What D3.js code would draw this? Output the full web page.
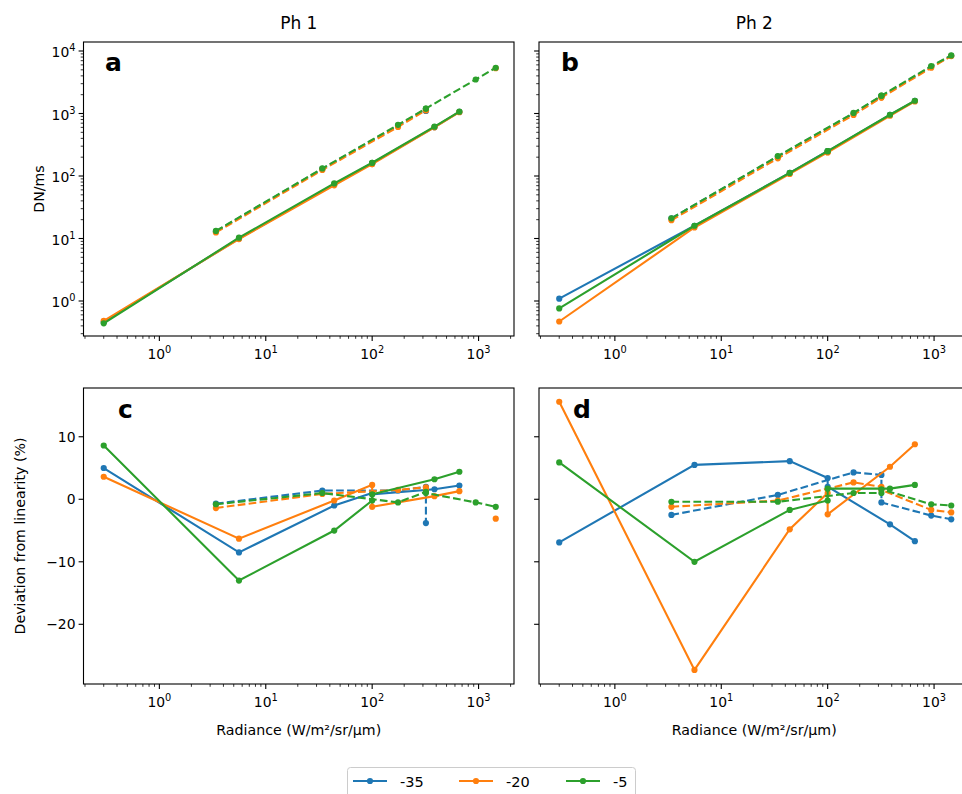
<!DOCTYPE html>
<html><head><meta charset="utf-8">
<script src="https://cdn.jsdelivr.net/npm/d3@7"></script>
<style>body{margin:0;background:#fff} svg text{font-family:"DejaVu Sans",sans-serif;fill:#000}</style>
</head><body><svg id="chart" width="962" height="794"></svg>
<script>
// ---------------- DATA ----------------
const temps = ["-35", "-20", "-5"];
const seriesColors = ["#1f77b4", "#ff7f0e", "#2ca02c"];
const solidX = [0.3, 5.6, 44, 100, 100, 385, 660];
const dashedX = [3.4, 34, 175, 320, 320, 940, 1450];

// DN/ms, Ph 1 (rows: -35, -20, -5)
const ph1SignalSolid = [
  [0.46, 10.0, 74, 160, 160, 605, 1060],
  [0.48, 9.8, 71, 155, 155, 600, 1050],
  [0.44, 10.3, 76, 163, 163, 615, 1070]
];
const ph1SignalDashed = [
  [13.0, 130, 640, 1180, 1100, null, null],
  [12.5, 125, 610, 1130, 1130, null, 5300],
  [13.2, 132, 660, 1200, 1200, 3500, 5400]
];
// DN/ms, Ph 2
const ph2SignalSolid = [
  [1.09, 16, 112, 250, 248, 950, 1590],
  [0.47, 15, 108, 240, 238, 920, 1560],
  [0.76, 16, 112, 250, 250, 955, 1600]
];
const ph2SignalDashed = [
  [21, 205, 1000, 1900, 1880, 5600, 8400],
  [19.6, 192, 950, 1800, 1800, 5400, 8300],
  [21, 208, 1020, 1930, 1930, 5750, 8500]
];
// Deviation from linearity (%), Ph 1
const ph1DevSolid = [
  [5.0, -8.5, -1.0, 1.0, 0.8, 1.6, 2.2],
  [3.6, -6.3, -0.2, 2.3, -1.2, 0.5, 1.3],
  [8.6, -13.0, -5.0, -0.2, 0.8, 3.2, 4.4]
];
const ph1DevDashed = [
  [-0.7, 1.4, 1.4, 2.0, -3.8, null, null],
  [-1.4, 0.85, 1.5, 1.9, 1.5, null, -3.1],
  [-0.8, 1.0, -0.5, 1.2, 1.0, -0.5, -1.2]
];
// Deviation from linearity (%), Ph 2
const ph2DevSolid = [
  [-6.9, 5.5, 6.1, 3.4, 2.0, -4.0, -6.7],
  [15.6, -27.3, -4.8, 1.0, -2.4, 5.2, 8.8],
  [5.9, -10.0, -1.7, -0.2, 1.7, 1.7, 2.3]
];
const ph2DevDashed = [
  [-2.5, 0.7, 4.3, 3.9, -0.5, -2.6, -3.2],
  [-1.2, -0.2, 2.7, 2.0, 1.5, -1.7, -2.1],
  [-0.4, -0.4, 1.0, 1.0, 1.6, -0.8, -1.0]
];

const panelTitles = ["Ph 1", "Ph 2"];
const panelLetters = ["a", "b", "c", "d"];
const xTickExps = [0, 1, 2, 3];
const topYTickExps = [0, 1, 2, 3, 4];
const devTicks = [10, 0, -10, -20];

// ---------------- LAYOUT ----------------
const svg = d3.select("#chart");
const colX = [83.5, 539];
const panelW = 430.5;
const rowY = [42, 388];
const rowH = [294, 296];
const xDomain = [Math.pow(10, -0.713), Math.pow(10, 3.333)];
const topYDomain = [Math.pow(10, -0.56), Math.pow(10, 4.144)];
const devYDomain = [-29.55, 17.8];

const panels = [
  {col: 0, row: 0, letter: "a", lx: 105, ly: 71, solid: ph1SignalSolid, dashed: ph1SignalDashed},
  {col: 1, row: 0, letter: "b", lx: 561, ly: 71, solid: ph2SignalSolid, dashed: ph2SignalDashed},
  {col: 0, row: 1, letter: "c", lx: 118, ly: 418, solid: ph1DevSolid, dashed: ph1DevDashed},
  {col: 1, row: 1, letter: "d", lx: 573, ly: 418, solid: ph2DevSolid, dashed: ph2DevDashed}
];

function supText(sel, base, exp) {
  sel.append("tspan").text(base);
  sel.append("tspan").attr("dy", -6).attr("font-size", 9.8).text(exp);
}

panels.forEach((p, pi) => {
  const x0 = colX[p.col], y0 = rowY[p.row], h = rowH[p.row];
  const x = d3.scaleLog().domain(xDomain).range([x0, x0 + panelW]);
  const y = p.row === 0
    ? d3.scaleLog().domain(topYDomain).range([y0 + h, y0])
    : d3.scaleLinear().domain(devYDomain).range([y0 + h, y0]);
  const g = svg.append("g");
  const clipId = "clip" + pi;
  svg.append("clipPath").attr("id", clipId).append("rect")
    .attr("x", x0).attr("y", y0).attr("width", panelW).attr("height", h);
  const plot = g.append("g").attr("clip-path", `url(#${clipId})`);

  // data
  temps.forEach((t, i) => {
    [["solid", solidX, p.solid[i]], ["dashed", dashedX, p.dashed[i]]].forEach(([style, xs, ys]) => {
      const pts = xs.map((xv, k) => ({x: xv, y: ys[k]}));
      const line = d3.line().defined(d => d.y != null).x(d => x(d.x)).y(d => y(d.y));
      plot.append("path").datum(pts).attr("d", line)
        .attr("fill", "none").attr("stroke", seriesColors[i]).attr("stroke-width", 2.1)
        .attr("stroke-dasharray", style === "dashed" ? "7.7,3.3" : null);
      plot.selectAll(null).data(pts.filter(d => d.y != null)).enter().append("circle")
        .attr("cx", d => x(d.x)).attr("cy", d => y(d.y)).attr("r", 3.1)
        .attr("fill", seriesColors[i]);
    });
  });

  // frame
  g.append("rect").attr("x", x0).attr("y", y0).attr("width", panelW).attr("height", h)
    .attr("fill", "none").attr("stroke", "#000").attr("stroke-width", 1.1);

  const yb = y0 + h;
  // x ticks (log)
  const xt = x.ticks().filter(v => v >= xDomain[0] && v <= xDomain[1]);
  xt.forEach(v => {
    const major = Math.abs(Math.log10(v) - Math.round(Math.log10(v))) < 1e-9;
    g.append("line").attr("x1", x(v)).attr("x2", x(v)).attr("y1", yb).attr("y2", yb + (major ? 4.9 : 2.8))
      .attr("stroke", "#000").attr("stroke-width", major ? 1.1 : 0.8);
  });
  xTickExps.forEach(e => {
    const t = g.append("text").attr("x", x(Math.pow(10, e))).attr("y", yb + 23)
      .attr("text-anchor", "middle").attr("font-size", 13.9);
    supText(t, "10", String(e));
  });

  // y ticks
  if (p.row === 0) {
    const yt = y.ticks().filter(v => v >= topYDomain[0] && v <= topYDomain[1]);
    yt.forEach(v => {
      const major = Math.abs(Math.log10(v) - Math.round(Math.log10(v))) < 1e-9;
      g.append("line").attr("x1", x0).attr("x2", x0 - (major ? 4.9 : 2.8)).attr("y1", y(v)).attr("y2", y(v))
        .attr("stroke", "#000").attr("stroke-width", major ? 1.1 : 0.8);
    });
    if (p.col === 0) {
      topYTickExps.forEach(e => {
        const t = g.append("text").attr("x", x0 - 8).attr("y", y(Math.pow(10, e)) + 6)
          .attr("text-anchor", "end").attr("font-size", 13.9);
        supText(t, "10", String(e));
      });
    }
  } else {
    devTicks.forEach(v => {
      g.append("line").attr("x1", x0).attr("x2", x0 - 4.9).attr("y1", y(v)).attr("y2", y(v))
        .attr("stroke", "#000").attr("stroke-width", 1.1);
      if (p.col === 0) {
        g.append("text").attr("x", x0 - 8).attr("y", y(v) + 5)
          .attr("text-anchor", "end").attr("font-size", 13.9)
          .text(v < 0 ? "\u2212" + Math.abs(v) : String(v));
      }
    });
  }

  // panel letter
  g.append("text").attr("x", p.lx).attr("y", p.ly).attr("font-size", 25).attr("font-weight", "bold").text(p.letter);

  // titles and x labels
  const cx = x0 + panelW / 2;
  if (p.row === 0) {
    g.append("text").attr("x", cx).attr("y", 29).attr("text-anchor", "middle").attr("font-size", 17).text(panelTitles[p.col]);
  } else {
    g.append("text").attr("x", cx).attr("y", 735).attr("text-anchor", "middle").attr("font-size", 14.2)
      .text("Radiance (W/m\u00b2/sr/\u03bcm)");
  }
});

// y-axis labels
svg.append("text").attr("transform", "translate(44,189) rotate(-90)").attr("text-anchor", "middle")
  .attr("font-size", 14.2).text("DN/ms");
svg.append("text").attr("transform", "translate(25,536) rotate(-90)").attr("text-anchor", "middle")
  .attr("font-size", 14.2).text("Deviation from linearity (%)");

// legend
const lg = svg.append("g");
lg.append("rect").attr("x", 347.5).attr("y", 767.5).attr("width", 288).attr("height", 40).attr("rx", 3)
  .attr("fill", "#fff").attr("stroke", "#ccc").attr("stroke-width", 1);
const legendX = [353, 459, 566];
temps.forEach((t, i) => {
  const lx = legendX[i];
  lg.append("line").attr("x1", lx).attr("x2", lx + 34).attr("y1", 781).attr("y2", 781)
    .attr("stroke", seriesColors[i]).attr("stroke-width", 2.1);
  lg.append("circle").attr("cx", lx + 17).attr("cy", 781).attr("r", 3.1).attr("fill", seriesColors[i]);
  lg.append("text").attr("x", lx + 47).attr("y", 786.5).attr("font-size", 14.5).text(t);
});
</script></body></html>
